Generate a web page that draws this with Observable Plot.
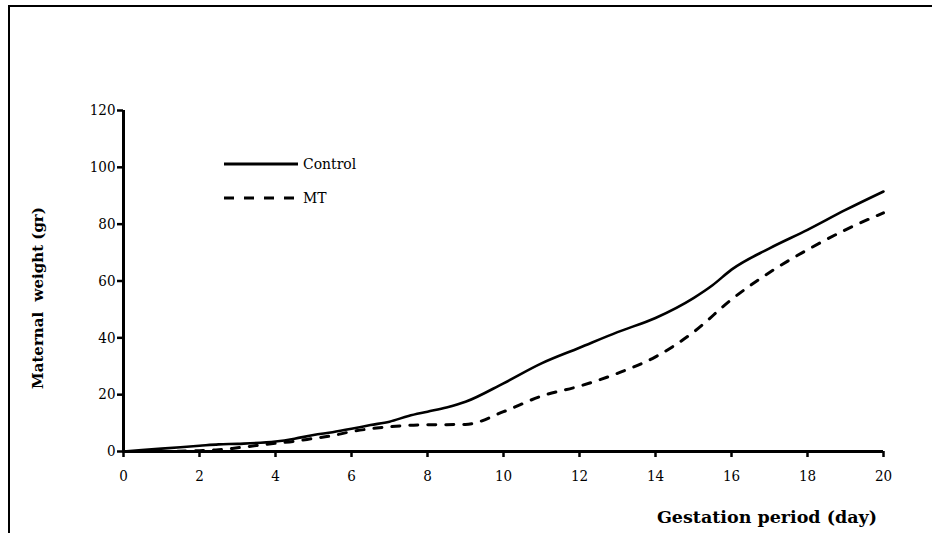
<!DOCTYPE html>
<html>
<head>
<meta charset="utf-8">
<script src="https://cdn.jsdelivr.net/npm/d3@7"></script>
<script src="https://cdn.jsdelivr.net/npm/@observablehq/plot@0.6"></script>
<style>
  html, body { margin: 0; padding: 0; background: #fff; }
  #wrap { position: relative; width: 932px; height: 533px; overflow: hidden; font-family: "DejaVu Serif", serif; }
  #frame { position: absolute; left: 8px; top: 5px; width: 930px; height: 540px; border-top: 2px solid #000; border-left: 2px solid #000; box-sizing: border-box; }
  #chart { position: absolute; left: 0; top: 0; }
  .xlabel { position: absolute; right: 55px; top: 507px; font-weight: bold; font-size: 17.5px; white-space: nowrap; }
  .ylabel { position: absolute; left: 38px; top: 298px; font-weight: bold; font-size: 15px; white-space: nowrap; transform: translate(-50%, -50%) rotate(-90deg); }
  .legend { position: absolute; left: 224px; font-family: "DejaVu Serif Condensed", "DejaVu Serif", serif; font-stretch: condensed; font-size: 15.5px; display: flex; align-items: center; white-space: nowrap; }
  .legend svg { margin-right: 5px; }
</style>
</head>
<body>
<div id="wrap">
  <div id="frame"></div>
  <div id="chart"></div>
  <div class="ylabel">Maternal&nbsp; weight (gr)</div>
  <div class="xlabel">Gestation period (day)</div>
  <div class="legend" style="top:155px"><svg width="74" height="10"><line x1="0" y1="5" x2="74" y2="5" stroke="#000" stroke-width="3"/></svg>Control</div>
  <div class="legend" style="top:189px"><svg width="74" height="10"><line x1="0" y1="5" x2="74" y2="5" stroke="#000" stroke-width="3" stroke-dasharray="10,10"/></svg>MT</div>
</div>
<script>
const seriesNames = ["Control", "MT"];
const controlDays = [0, 1, 2, 2.5, 3, 4, 4.5, 5, 5.5, 6, 6.5, 7, 7.5, 8, 8.5, 9, 10, 11, 12, 13, 14, 15, 15.5, 16, 17, 18, 19, 20];
const controlWeight = [0, 1, 2, 2.5, 2.7, 3.5, 4.5, 5.8, 6.8, 8, 9.3, 10.5, 12.5, 14, 15.5, 17.5, 24, 31, 36.5, 42, 47, 54, 58.5, 64, 71.5, 78, 85, 91.5];
const mtDays = [0, 1, 2, 2.5, 3, 4, 4.5, 5, 5.5, 6, 6.5, 7, 7.5, 8, 9, 10, 11, 12, 13, 14, 15, 16, 17, 18, 19, 20];
const mtWeight = [0, 0, 0.3, 0.6, 1.3, 2.9, 3.6, 4.6, 5.6, 7, 8, 8.7, 9.2, 9.4, 9.5, 14, 19.5, 23, 27.5, 33.3, 42, 53.5, 63, 71, 78, 84];
const xTicks = [0, 2, 4, 6, 8, 10, 12, 14, 16, 18, 20];
const yTicks = [0, 20, 40, 60, 80, 100, 120];

const control = controlDays.map((d, i) => ({day: d, weight: controlWeight[i], series: seriesNames[0]}));
const mt = mtDays.map((d, i) => ({day: d, weight: mtWeight[i], series: seriesNames[1]}));

const chart = Plot.plot({
  width: 932,
  height: 533,
  marginLeft: 123,
  marginRight: 49,
  marginTop: 110,
  marginBottom: 82,
  style: {fontFamily: "'DejaVu Serif Condensed', 'DejaVu Serif', serif", fontStretch: "condensed", fontSize: "15px", color: "#000", background: "transparent"},
  x: {domain: [0, 20]},
  y: {domain: [0, 120]},
  marks: [
    Plot.axisX({ticks: xTicks, tickSize: 6, tickPadding: 13, strokeWidth: 2.5, label: null, fontSize: 15}),
    Plot.axisY({ticks: yTicks, tickSize: 6, tickPadding: 2, strokeWidth: 2.5, label: null, fontSize: 15}),
    Plot.line(mt, {x: "day", y: "weight", stroke: "#000", strokeWidth: 3, strokeDasharray: "8,10", curve: "monotone-x"}),
    Plot.line(control, {x: "day", y: "weight", stroke: "#000", strokeWidth: 2.6, curve: "monotone-x"}),
    Plot.ruleX([0], {stroke: "#000", strokeWidth: 3}),
    Plot.ruleY([0], {stroke: "#000", strokeWidth: 3})
  ]
});
document.getElementById("chart").appendChild(chart);
</script>
</body>
</html>
